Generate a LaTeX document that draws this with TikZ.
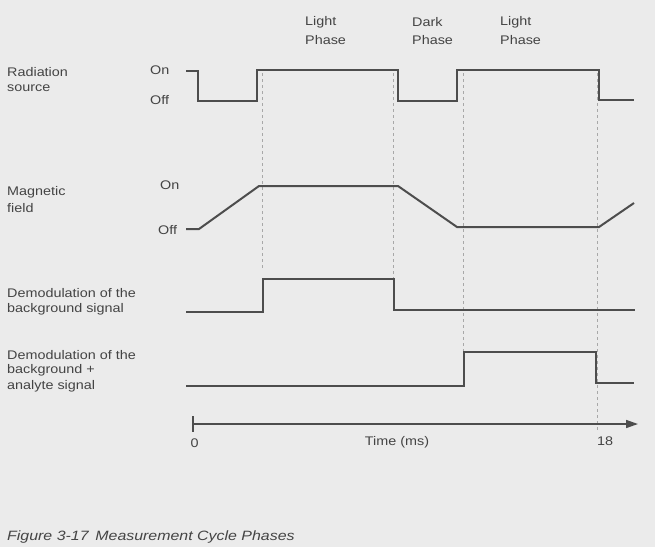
\documentclass[tikz,border=0pt]{standalone}
\usepackage{fontspec}
\usetikzlibrary{arrows.meta}
\newfontfamily\labfont[FakeStretch=1.15]{Liberation Sans}
\newfontfamily\capfont[FakeStretch=1.18]{Liberation Sans}
\definecolor{bgc}{HTML}{EBEBEB}
\definecolor{ink}{HTML}{4D4D4D}
\definecolor{txt}{HTML}{444444}
\definecolor{dsh}{HTML}{A8A8A8}
\tikzset{
  lbl/.style={anchor=west,inner sep=0pt,text=txt,font=\labfont\fontsize{12.5}{15}\selectfont},
  lblc/.style={anchor=center,inner sep=0pt,text=txt,font=\labfont\fontsize{12.5}{15}\selectfont},
  wave/.style={draw=ink,line width=2pt,line join=miter},
  guide/.style={draw=dsh,line width=0.7pt,dash pattern=on 3pt off 3pt},
  axis/.style={draw=ink,line width=1.5pt},
}
\begin{document}
\begin{tikzpicture}[x=1pt,y=-1pt]
\useasboundingbox (0,0) rectangle (655,547);
\fill[bgc] (0,0) rectangle (655,547);

% phase labels
\node[lbl] (lp1a) at (305,22) {Light};
\node[lbl] (lp1b) at (305,40) {Phase};
\node[lbl] (dpa) at (412,22) {Dark};
\node[lbl] (dpb) at (412,40) {Phase};
\node[lbl] (lp2a) at (500,22) {Light};
\node[lbl] (lp2b) at (500,40) {Phase};

% row labels
\node[lbl] (rs1) at (7,72) {Radiation};
\node[lbl] (rs2) at (7,88) {source};
\node[lbl] (rson) at (150,70) {On};
\node[lbl] (rsoff) at (150,100) {Off};

\node[lbl] (mf1) at (7,192) {Magnetic};
\node[lbl] (mf2) at (7,208) {field};
\node[lbl] (mfon) at (160,185) {On};
\node[lbl] (mfoff) at (158,230) {Off};

\node[lbl] (db1) at (7,293) {Demodulation of the};
\node[lbl] (db2) at (7,309) {background signal};

\node[lbl] (da1) at (7,355) {Demodulation of the};
\node[lbl] (da2) at (7,370) {background +};
\node[lbl] (da3) at (7,386) {analyte signal};

% guide lines
\draw[guide] (262,73) -- (262,268);
\draw[guide] (393,73) -- (393,305);
\draw[guide] (463,73) -- (463,352);
\draw[guide] (597,73) -- (597,432);

% radiation source
\draw[wave] (186,71) -- (198,71) -- (198,101) -- (257,101) -- (257,70) -- (398,70) -- (398,101) -- (457,101) -- (457,70) -- (599,70) -- (599,100) -- (634,100);

% magnetic field
\draw[wave] (186,229) -- (199,229) -- (259,186) -- (398,186) -- (457,227) -- (599,227) -- (634,203);

% demodulation background
\draw[wave] (186,312) -- (263,312) -- (263,279) -- (394,279) -- (394,310) -- (635,310);

% demodulation background + analyte
\draw[wave] (186,386) -- (464,386) -- (464,352) -- (596,352) -- (596,383) -- (634,383);

% time axis
\coordinate (ax0) at (193,424);
\coordinate (ax1) at (638,424);
\draw[axis,-{Triangle[length=12pt,width=8pt]}] (ax0) -- (ax1);
\draw[draw=ink,line width=1.2pt] (193,416) -- (193,432);
\node[lblc] (t0) at (194.5,443) {0};
\node[lblc] (tl) at (397,442) {Time (ms)};
\node[lblc] (t18) at (605,441) {18};

% caption
\node[anchor=west,inner sep=0pt,text=txt,font=\capfont\itshape\fontsize{13.5}{16}\selectfont] (cap) at (7,537) {Figure 3-17\enspace Measurement Cycle Phases};
\end{tikzpicture}
\end{document}
